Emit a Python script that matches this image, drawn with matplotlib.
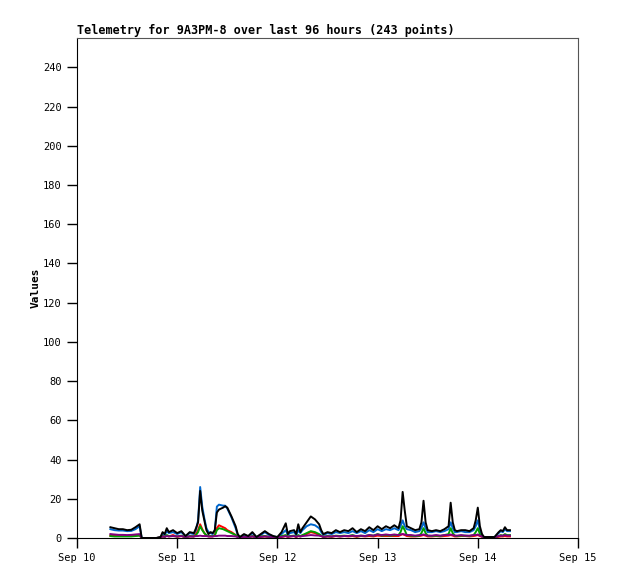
import numpy as np
import matplotlib
matplotlib.use('Agg')
import matplotlib.pyplot as plt
import matplotlib.dates as mdates

###telemetry, hours since Sep 10 00:00
hours = [8, 9, 10, 11, 12, 13, 14, 15, 15.5, 17,
         19, 20, 20.5, 21, 21.5, 22, 23, 24, 25, 26,
         27, 28, 28.5, 29, 29.5, 30, 30.5, 31, 31.5, 32,
         32.5, 33, 33.5, 34, 35, 35.5, 36, 37, 38, 38.5,
         39, 40, 41, 42, 43, 44, 45, 46, 47, 48,
         49, 50, 50.5, 51, 52, 52.5, 53, 53.5, 54, 55,
         56, 57, 58, 58.5, 59, 60, 61, 62, 63, 64,
         65, 66, 67, 68, 69, 70, 71, 72, 73, 74,
         75, 76, 77, 77.5, 78, 78.5, 79, 80, 81, 82,
         82.5, 83, 83.5, 84, 85, 86, 87, 88, 89, 89.5,
         90, 90.5, 91, 92, 93, 94, 95, 95.5, 96, 96.5,
         97, 97.5, 98, 99, 100, 101, 101.5, 102, 102.5, 103,
         103.7]

black = [5.5, 5, 4.5, 4.5, 4, 4.2, 5.5, 7, 0, 0,
         0, 0.5, 3, 2, 5, 3, 4, 2.5, 3.5, 1,
         3, 2.5, 5, 8, 24, 14, 9, 4, 2, 3,
         2.5, 4, 13, 14.5, 15.5, 16.2, 15.5, 11, 6, 2,
         0.5, 2, 1, 3, 0.5, 2, 3.5, 2, 1, 0.5,
         3, 7.5, 2, 3.5, 4, 2, 7, 3, 5, 8,
         11, 9.5, 7, 4, 2, 3, 2.5, 4, 3, 4,
         3.5, 5, 3, 4.5, 3.5, 5.5, 4, 6, 4.5, 6,
         5, 6.5, 5, 9, 23.5, 14, 6, 5, 4, 4.5,
         8, 19, 8, 4, 3.5, 4, 3.5, 4.5, 6, 18,
         8, 4, 3.5, 4, 4, 3.5, 5, 9, 15.5, 6,
         2, 0.5, 0.5, 0.5, 0.5, 3, 4, 3.5, 5.5, 4,
         4]

blue = [4.5, 4, 3.8, 3.8, 3.5, 3.6, 4.5, 6, 0, 0,
        0, 0.3, 2, 1.5, 3.5, 2.5, 3, 2, 3, 0.8,
        2.5, 2, 4, 9, 26, 16, 10, 5, 3, 2.5,
        2, 3.5, 16, 17, 16.5, 16.5, 15, 10.5, 5, 1.5,
        0.3, 1.5, 0.8, 2.5, 0.4, 1.5, 3, 1.5, 0.8, 0.4,
        2, 4, 1.5, 2.5, 3, 1.5, 4, 2.5, 4, 6,
        7, 6.5, 5, 3, 1.5, 2.5, 2, 3, 2.5, 3,
        2.5, 3.5, 2.5, 3.5, 2.5, 4, 3, 4.5, 3.5, 4.5,
        4, 5, 4, 6, 9, 6, 4.5, 4, 3, 3.5,
        5, 8, 5, 3, 3, 3.5, 3, 3.5, 4.5, 8,
        5, 3, 3, 3.5, 3, 3, 4, 6, 9, 4,
        1.5, 0.4, 0.4, 0.4, 0.4, 2.5, 3.5, 3, 4.5, 3.5,
        3.5]

green = [1, 0.8, 0.8, 0.8, 0.8, 0.8, 1, 1.2, 0, 0,
         0, 0.2, 1, 0.5, 1.5, 1, 1, 0.8, 1.2, 0.3,
         1, 0.8, 1.5, 3, 6, 4, 2.5, 1.5, 1, 1,
         1, 1.2, 4, 5, 4.5, 4, 3.5, 2.5, 1.5, 0.5,
         0.2, 0.8, 0.3, 1, 0.2, 0.8, 1, 0.6, 0.3, 0.2,
         1, 1.5, 0.8, 1, 1.2, 0.8, 1.5, 1, 1.5, 2.5,
         3.5, 3, 2, 1.2, 0.6, 1, 0.8, 1.2, 1, 1.2,
         1, 1.5, 0.8, 1.2, 1, 1.5, 1.2, 2, 1.2, 1.5,
         1.2, 1.5, 1.5, 3, 6, 4, 1.5, 1.2, 1, 1.2,
         2.5, 5, 2.5, 1.2, 1, 1.2, 1, 1.5, 2, 5,
         2.5, 1.2, 1, 1.2, 1.2, 1, 1.5, 3, 5, 2,
         0.8, 0.3, 0.3, 0.3, 0.3, 1, 1.5, 1.2, 2, 1.5,
         1.5]

red = [1.2, 1, 1, 1, 1, 1, 1.2, 1.5, 0, 0,
       0, 0.2, 0.8, 0.6, 1.2, 0.8, 1.5, 0.6, 1, 0.3,
       0.8, 0.8, 2, 4, 7, 4.5, 2.5, 1.2, 0.8, 0.8,
       0.8, 1.5, 5, 6.5, 5.5, 5, 4, 3, 1.5, 0.5,
       0.2, 0.6, 0.3, 0.8, 0.2, 0.6, 0.8, 0.5, 0.3, 0.2,
       0.5, 1, 0.5, 0.8, 1, 0.5, 1, 0.8, 1.2, 2,
       3, 2.5, 1.5, 1, 0.5, 0.8, 0.6, 1, 0.8, 1,
       0.8, 1, 0.6, 1, 0.8, 1, 0.8, 1.2, 1, 1,
       1, 1, 1, 1.5, 2, 1.5, 1, 0.8, 0.8, 1,
       1.2, 1.5, 1.2, 0.8, 0.8, 1, 0.8, 1, 1.2, 1.5,
       1.2, 0.8, 0.8, 1, 1, 0.8, 1, 1.2, 1.5, 1,
       0.6, 0.2, 0.2, 0.2, 0.2, 0.6, 0.8, 0.8, 1, 0.8,
       0.8]

purple = [2, 1.8, 1.6, 1.6, 1.5, 1.6, 1.8, 2, 0, 0,
          0, 0.2, 0.8, 0.6, 1, 0.8, 1, 0.8, 1, 0.5,
          0.8, 0.8, 1, 1, 1.2, 1, 1, 1, 0.8, 0.8,
          0.8, 1, 1, 1.2, 1.2, 1.2, 1, 1, 0.8, 0.5,
          0.3, 0.6, 0.5, 0.8, 0.4, 0.6, 0.8, 0.6, 0.5, 0.4,
          0.6, 1, 0.6, 0.8, 1, 0.6, 1, 0.8, 1, 1.2,
          1.5, 1.3, 1.2, 1, 0.6, 0.8, 0.8, 1, 0.8, 1,
          1, 1.2, 1, 1.2, 1, 1.5, 1.2, 1.8, 1.5, 1.8,
          1.5, 1.8, 1.5, 1.8, 2, 1.8, 1.5, 1.5, 1.2, 1.5,
          1.5, 1.8, 1.5, 1.2, 1.2, 1.5, 1.2, 1.5, 1.5, 1.8,
          1.5, 1.2, 1.2, 1.5, 1.2, 1.2, 1.5, 1.5, 1.8, 1.2,
          0.8, 0.3, 0.3, 0.3, 0.3, 1, 1.2, 1.2, 1.5, 1.2,
          1.2]

start = np.datetime64('2023-09-10T00:00')
t = start + (np.array(hours) * 60).astype('timedelta64[m]')

plt.rcParams['font.family'] = ['DejaVu Sans Mono']
fig = plt.figure(figsize=(6.18, 5.79), dpi=100)
ax = fig.add_axes([77/618, 41/579, 501/618, 500/579])

lw = 1.4
ax.plot(t, blue, color='#0066cc', lw=lw)
ax.plot(t, red, color='#ff0000', lw=lw)
ax.plot(t, green, color='#00a000', lw=lw)
ax.plot(t, purple, color='#800080', lw=lw)
ax.plot(t, black, color='black', lw=lw)

ax.set_xlim(np.datetime64('2023-09-10T00:00'), np.datetime64('2023-09-15T00:00'))
ax.set_ylim(0, 255)
ax.set_yticks(np.arange(0, 241, 20))
ax.xaxis.set_major_locator(mdates.DayLocator())
ax.xaxis.set_major_formatter(mdates.DateFormatter('%b %d'))
ax.tick_params(axis='both', direction='out', length=7, width=1, labelsize=7.5, pad=4)

for s in ['top', 'right']:
    ax.spines[s].set_color('#555555')
for s in ['left', 'bottom']:
    ax.spines[s].set_color('black')

ax.set_ylabel('Values', fontsize=8, fontweight='bold', labelpad=2)
ax.set_title('Telemetry for 9A3PM-8 over last 96 hours (243 points)',
             loc='left', fontsize=8.5, fontweight='bold', pad=3)

fig.savefig('out.png', dpi=100)
